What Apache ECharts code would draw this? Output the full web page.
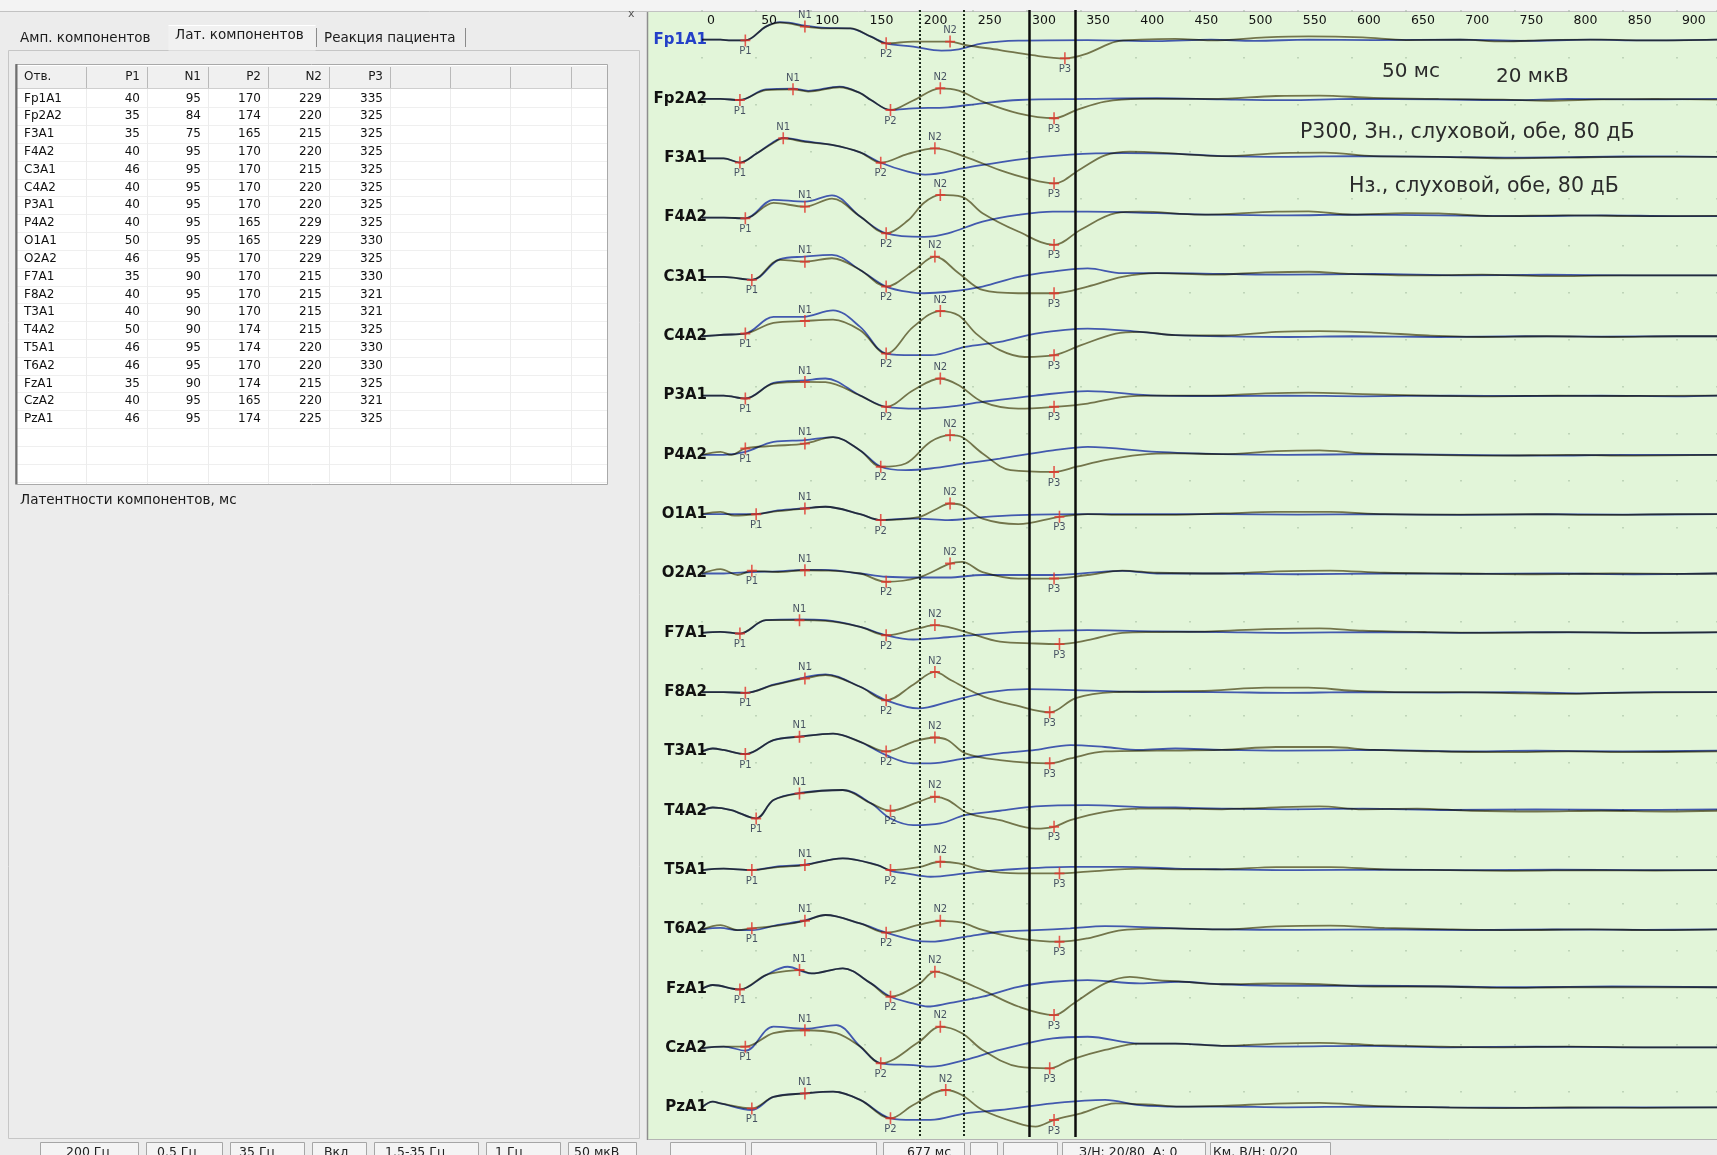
<!DOCTYPE html>
<html>
<head>
<meta charset="utf-8">
<title>Р300 — латентности компонентов</title>
<script src="https://cdn.jsdelivr.net/npm/echarts@6/dist/echarts.min.js"></script>
<style>
  html, body { margin: 0; padding: 0; background: #ececec; }
  #main { width: 1717px; height: 1155px; }
</style>
</head>
<body>
<div id="main"></div>
<script>
// ---- Leads and component latencies (ms) ----
const channels = ['Fp1A1','Fp2A2','F3A1','F4A2','C3A1','C4A2','P3A1','P4A2','O1A1','O2A2',
                  'F7A1','F8A2','T3A1','T4A2','T5A1','T6A2','FzA1','CzA2','PzA1'];
const latP1 = [40,35,35,40,46,40,40,40,50,46,35,40,40,50,46,46,35,40,46];
const latN1 = [95,84,75,95,95,95,95,95,95,95,90,95,90,90,95,95,90,95,95];
const latP2 = [170,174,165,170,170,170,170,165,165,170,170,170,170,174,174,170,174,165,174];
const latN2 = [229,220,215,220,215,220,220,229,229,229,215,215,215,215,220,220,215,220,225];
const latP3 = [335,325,325,325,325,325,325,325,330,325,330,321,321,325,330,330,325,321,325];

// Time axis tick labels (ms) and analysis window bounds (ms)
const timeTicks = [0,50,100,150,200,250,300,350,400,450,500,550,600,650,700,750,800,850,900];
const windowBounds = [201, 242, 302, 345];

// ---- Averaged responses, [ms, µV] (positive = down) ----
// rare_* : significant (Зн.) stimulus, freq_* : non-significant (Нз.) stimulus
const rare_Fp1A1 = [[0,0],[17,0],[27,0.5],[40,0.5],[59,-8.8],[72,-11.5],[80,-11],[95,-8.8],[114,-7.6],[137,-7.6],[156,-2],[170,2.5],[195,1.3],[229,1.3],[243,3.6],[275,7],[305,10.5],[335,12.6],[356,9.2],[382,1.3],[405,0],[437,-0.5],[470,0.5],[520,-1.5],[560,-2.2],[610,-1.5],[650,0.3],[700,0],[740,1.2],[780,0.3],[830,0],[880,0.5],[937,0]];
const freq_Fp1A1 = [[0,0],[17,0],[27,0.5],[40,0.5],[59,-8.8],[72,-11.8],[80,-11.5],[95,-9.5],[114,-8],[137,-7.6],[156,-2],[170,2.5],[195,4.7],[221,7.4],[237,6.5],[259,2.5],[292,0.7],[356,0.3],[420,1],[470,0],[510,0.8],[560,0],[620,0.3],[700,0],[760,0.8],[820,0],[870,0.5],[937,0]];

const rare_Fp2A2 = [[0,0],[17,0],[35,0.7],[59,-6],[84,-6.5],[98,-5],[127,-7.9],[146,-4],[156,0.7],[174,7.4],[195,1],[220,-7.2],[237,-5.6],[259,1.8],[292,9.7],[325,13],[346,7.4],[372,1.8],[405,0],[470,0],[530,-2],[570,-2.3],[620,-0.8],[680,0],[740,0.5],[780,1.2],[830,0.3],[880,0],[937,0.5]];
const freq_Fp2A2 = [[0,0],[17,0],[35,0.7],[59,-6.5],[84,-7],[98,-5.5],[127,-8.3],[146,-4],[156,0.7],[174,7.4],[195,6.3],[227,5.6],[259,2.9],[292,0.7],[356,0],[420,-0.5],[480,0.3],[540,0.8],[600,0],[680,0.3],[750,0.8],[800,0],[860,0.3],[937,0]];

const rare_F3A1 = [[0,0],[20,0],[35,2.9],[50,-3],[65,-10],[75,-13.5],[95,-11],[120,-9],[146,-4],[165,3],[190,-3],[215,-6.7],[243,-1],[275,8],[300,13.5],[325,16.9],[350,7],[372,-2],[395,-4.5],[440,-3],[480,-1.5],[535,-3.5],[575,-3.8],[620,-1.5],[680,-1],[740,0],[800,-0.5],[860,-1],[937,-1]];
const freq_F3A1 = [[0,0],[20,0],[35,2.9],[50,-3],[65,-10.5],[75,-13.8],[95,-11.5],[120,-9],[146,-4],[165,3],[190,9],[206,11],[243,6.5],[290,1],[340,-2.5],[390,-3.5],[440,-3],[480,-1.5],[540,-1],[600,-1.5],[680,-1],[750,-0.5],[820,-1],[880,-1.3],[937,-1]];

const rare_F4A2 = [[0,0],[20,0],[40,0.5],[66,-9.9],[95,-7.4],[120,-12.8],[146,-0.7],[170,10.6],[190,2],[205,-10],[220,-15.3],[240,-14],[259,-3],[292,9.4],[325,18.4],[350,8],[382,-3],[405,-4],[460,-2],[530,-4],[560,-4.2],[600,-2],[650,-3],[680,-2.8],[730,-1],[800,-1.5],[870,-1],[937,-1.2]];
const freq_F4A2 = [[0,0],[20,0],[40,0.5],[66,-12],[95,-10.8],[120,-15],[146,-0.7],[170,10.6],[205,13],[227,10.6],[259,2.7],[292,-1.8],[324,-4],[356,-4],[420,-3],[470,-2],[540,-1.5],[600,-2],[680,-1.5],[760,-1],[830,-1.5],[900,-1],[937,-1]];

const rare_C3A1 = [[0,0],[20,0],[46,2],[72,-11.5],[95,-10.3],[120,-12.6],[146,-4.7],[170,6.5],[195,-4],[215,-13.7],[237,-2.5],[259,8.8],[292,11],[325,11],[356,6.5],[388,0],[420,-2.5],[470,-1.5],[520,-3],[560,-3.5],[600,-2],[660,-1],[720,-1.5],[780,-0.5],[850,-1],[937,-1]];
const freq_C3A1 = [[0,0],[20,0],[46,2],[72,-12],[95,-13.7],[120,-14.8],[146,-4.7],[170,6.5],[195,10.6],[205,11],[227,10],[259,6.5],[292,0],[324,-3.6],[356,-5.8],[388,-2.5],[430,-2.5],[480,-2],[540,-1.5],[620,-2],[700,-1],[780,-1.5],[860,-1],[937,-1]];

const rare_C4A2 = [[0,0],[20,-1],[40,-1.8],[66,-9],[95,-10.3],[121,-11.2],[146,-4],[170,11.7],[195,-6.3],[220,-17],[237,-14],[253,-1.8],[275,9.4],[298,14],[325,12.8],[350,6],[382,-1.8],[404,-3],[437,-0.7],[480,-0.5],[530,-3],[570,-3.5],[620,-2.5],[670,-0.5],[720,0.5],[780,0],[840,0.5],[900,0],[937,0]];
const freq_C4A2 = [[0,0],[20,-1],[40,-1.8],[66,-13],[92,-13],[121,-17.5],[146,-6.3],[170,11.7],[195,12.8],[211,12.8],[243,7.2],[275,3.8],[308,-1.8],[356,-5.2],[404,-3],[437,-0.7],[480,0],[540,0.5],[600,0],[680,0.5],[760,0],[830,0.3],[900,0],[937,0]];

const rare_P3A1 = [[0,0],[20,0],[40,2],[66,-8],[95,-9.2],[114,-9],[146,0],[170,7.6],[195,-3.6],[220,-11.5],[237,-7],[259,4.3],[292,8.8],[325,7.6],[356,5.4],[388,1],[420,0],[470,0],[520,-1.5],[560,-2],[610,-1],[670,0],[730,0.5],[790,0],[850,0.3],[937,0]];
const freq_P3A1 = [[0,0],[20,0],[40,2],[66,-8.5],[95,-10.3],[114,-11.5],[146,0],[170,7.6],[200,8.8],[227,7.6],[259,4.3],[308,0],[356,-3],[420,0],[480,0.3],[540,0],[610,0.5],[690,0],[760,0.3],[830,0],[900,0.5],[937,0]];

const rare_P4A2 = [[0,0],[17,-2],[27,0],[40,-4.3],[66,-6],[95,-7.6],[121,-12],[146,-3],[165,8],[188,5.8],[211,-8.8],[229,-13.3],[240,-12],[259,-1],[285,10.3],[325,11.5],[346,8],[372,3.6],[404,0],[437,-1],[480,-0.5],[530,-2.5],[570,-3],[610,-1],[670,0],[730,0.5],[800,0],[860,0.5],[937,0]];
const freq_P4A2 = [[0,0],[20,0],[40,-2],[66,-8.8],[95,-10],[121,-12],[146,-3],[165,8],[188,10.3],[211,9.2],[243,5.8],[275,2.5],[324,-3],[356,-5.4],[420,-2],[480,-0.5],[540,0],[620,-0.5],[700,0],[780,0.5],[850,0],[937,0]];

const rare_O1A1 = [[0,0],[17,-1.5],[30,1],[50,0],[70,-2],[95,-3.8],[114,-5],[146,0],[165,4],[200,2],[215,-3],[229,-7.2],[240,-6],[259,3],[292,6.7],[330,1.8],[356,0],[390,0.5],[420,0.5],[480,-0.5],[530,-1.5],[580,-1.5],[630,0],[700,0.3],[770,0],[830,0.5],[900,0],[937,0]];
const freq_O1A1 = [[0,0],[20,0],[50,0],[70,-2.5],[95,-4],[114,-5],[146,0],[165,4],[188,3],[200,3],[227,4],[259,2],[292,0.7],[356,0],[420,0],[480,0],[550,0.3],[620,0],[700,0.5],[780,0],[850,0.3],[937,0]];

const rare_O2A2 = [[0,0],[17,-3],[33,1],[46,-1.8],[70,-1],[95,-2.2],[114,-2],[146,0],[170,5.6],[200,2.7],[229,-6.7],[240,-7.9],[259,-1],[292,3.4],[325,3.4],[356,1],[388,-2],[420,-0.5],[480,0],[530,-1.5],[580,-2],[630,-0.5],[700,0],[770,0.5],[840,0],[900,0.3],[937,0]];
const freq_O2A2 = [[0,0],[20,0],[46,-1],[70,-1.5],[95,-2.5],[114,-2.5],[146,0],[170,2.2],[200,2.7],[227,2.7],[259,1],[324,1],[388,-1.8],[420,0],[480,0],[550,0.5],[630,0],[710,0.3],[790,0],[860,0.5],[937,0]];

const rare_F7A1 = [[0,0],[17,-0.7],[35,0.5],[59,-8.5],[90,-8.5],[114,-8],[146,-4],[170,1.6],[200,-3],[215,-5.2],[227,-4],[246,0],[275,6],[308,7.2],[330,7.6],[356,5],[388,0],[420,-0.5],[470,-1],[520,-2.5],[570,-3],[610,-1.5],[670,-0.5],[730,0],[800,-0.5],[870,0],[937,-0.5]];
const freq_F7A1 = [[0,0],[17,-0.7],[35,0.5],[59,-8.5],[90,-9],[114,-8.5],[146,-4],[170,1.6],[195,4.5],[227,3],[259,1],[292,-0.7],[356,-1.8],[420,-1],[480,-0.5],[540,0],[620,-0.5],[700,0],[780,-0.5],[860,0],[937,-0.3]];

const rare_F8A2 = [[0,0],[20,0],[40,0.5],[66,-4.7],[95,-9.2],[114,-11.5],[146,-3.6],[170,5.5],[195,-5],[215,-13.6],[230,-8],[260,3],[290,9],[321,13.6],[345,4],[380,0],[420,-0.5],[470,-1],[520,-3],[560,-3],[600,-1],[650,0],[700,0],[760,0.8],[800,1.2],[860,0.3],[937,0]];
const freq_F8A2 = [[0,0],[20,0],[40,0.5],[66,-5],[95,-10],[114,-12],[146,-3.6],[170,5.5],[200,11],[230,6],[265,0],[300,-2],[380,-0.5],[420,0],[470,0],[540,0.5],[600,0],[680,0.3],[750,0],[810,0.8],[880,0],[937,0]];

const rare_T3A1 = [[0,0],[10,-2],[20,-1],[40,1.8],[66,-7.6],[90,-9.9],[121,-12],[146,-6.5],[170,0],[195,-6.5],[215,-9.4],[227,-7.6],[243,1.3],[275,5.8],[321,8],[340,4.7],[372,0],[420,-0.5],[480,-1],[530,-3],[580,-3],[620,-1],[680,0],[740,0.5],[800,0],[860,0.5],[937,0]];
const freq_T3A1 = [[0,0],[10,-2],[20,-1],[40,1.8],[66,-7.6],[90,-10],[121,-12],[146,-6.5],[170,2.5],[195,8],[211,8],[243,4.7],[275,1.3],[308,-1],[340,-4.3],[372,-3],[404,-1],[437,-2],[480,-1],[540,-0.5],[620,-1],[700,0],[770,-0.5],[850,0],[937,-0.5]];

const rare_T4A2 = [[0,0],[10,-2.2],[27,-0.5],[50,5.2],[66,-7.2],[90,-11.7],[130,-14],[156,-5],[174,0],[200,-6],[215,-9.4],[227,-7.2],[246,1.8],[275,6.3],[308,12],[325,10.8],[340,6.3],[372,0.7],[404,-1.5],[437,-1.5],[480,-1],[520,-2],[570,-3],[610,-1],[660,-1.5],[710,0],[770,0.5],[830,0],[890,0.5],[937,0]];
const freq_T4A2 = [[0,0],[10,-2.2],[27,-0.5],[50,5.2],[66,-7.2],[90,-12],[130,-14],[156,-5],[174,5.2],[195,9.7],[220,8.5],[243,3],[275,0],[308,-3],[356,-3.8],[404,-2.5],[437,-2.2],[480,-1.5],[540,-1],[610,-1.5],[690,-0.5],[770,-1],[850,-0.5],[937,-1]];

const rare_T5A1 = [[0,0],[20,-1],[46,0],[70,-2],[95,-3.4],[130,-7.9],[162,-3.4],[174,0],[200,-2],[220,-5.6],[237,-4.5],[259,0],[292,2.2],[330,2.2],[356,1],[404,-1],[437,-0.5],[480,-0.5],[530,-2],[580,-2],[630,-0.5],[690,0],[750,0.5],[820,0],[880,0.3],[937,0]];
const freq_T5A1 = [[0,0],[20,-1],[46,0],[70,-2.5],[95,-3.6],[130,-7.9],[162,-3.4],[174,0.5],[188,2.2],[211,4.5],[243,2.2],[275,0],[340,-2.2],[388,-2.2],[437,-1],[480,-0.5],[550,0],[630,-0.3],[710,0],[790,-0.3],[870,0],[937,0]];

const rare_T6A2 = [[0,0],[17,-2.9],[33,0.5],[46,-0.7],[70,-2.5],[95,-5.8],[114,-9.7],[146,-4],[170,2.2],[200,-3],[220,-5.8],[240,-4.5],[259,0.4],[292,6],[330,8.3],[356,6],[388,0.5],[437,-0.7],[480,0],[530,-2],[580,-2.5],[630,-1],[690,0],[750,0.5],[820,0],[880,0.5],[937,0]];
const freq_T6A2 = [[0,0],[17,-1],[33,0.5],[46,0.5],[70,-3],[95,-6],[114,-9.7],[146,-4],[170,2.2],[195,7.2],[211,8.3],[243,5],[275,1.6],[308,0.5],[340,-0.7],[372,-2.2],[437,-0.7],[480,0],[550,0.3],[630,0],[710,0.5],[790,0],[870,0.3],[937,0]];

const rare_FzA1 = [[0,0],[10,-2.5],[35,0.5],[59,-9.2],[80,-12],[90,-12.6],[101,-10.3],[130,-13.7],[156,-3.6],[174,5.4],[200,-3],[215,-11.5],[234,-7],[259,1],[292,12],[325,17.8],[343,9.9],[372,-3.6],[395,-8],[420,-5.8],[440,-5],[480,-3],[530,-3.5],[570,-3],[620,-1.5],[680,-1.5],[740,-0.5],[800,-1],[870,-1],[937,-1]];
const freq_FzA1 = [[0,0],[10,-2.5],[35,0.5],[59,-9.2],[79,-14.8],[101,-10.3],[130,-13.7],[156,-3.6],[174,5.4],[195,9.9],[208,12],[227,9.9],[259,5.4],[292,-1.3],[324,-4.7],[356,-5.8],[404,-3.6],[440,-4.7],[480,-3],[540,-2],[610,-2],[690,-1.5],[760,-1],[840,-1.5],[937,-1]];

const rare_CzA2 = [[0,0],[20,-1],[40,-0.9],[66,-10],[95,-12],[124,-10],[146,-1],[165,10.3],[200,-4],[220,-14.4],[240,-10],[259,1.3],[292,12.6],[321,13.7],[340,8],[372,1.3],[404,-3],[437,-3],[480,-1.5],[530,-3],[570,-3.5],[620,-2],[680,-1],[740,-0.5],[800,-1],[870,-0.5],[937,-0.5]];
const freq_CzA2 = [[0,0],[20,-1],[40,1.8],[66,-14.4],[95,-13],[124,-15.5],[146,-1],[165,10.3],[195,11.5],[211,12.6],[243,8],[275,1.3],[324,-6.5],[356,-7.6],[404,-3],[437,-3],[480,-1.5],[540,-1],[610,-1.5],[690,-0.5],[770,-1],[850,-0.5],[937,-0.5]];

const rare_PzA1 = [[0,0],[10,-3.8],[17,-2.7],[46,0.7],[66,-7],[95,-9.4],[121,-10.6],[146,-5],[174,7.4],[195,-1.6],[225,-11.7],[240,-8.3],[259,1.8],[292,10.8],[308,13],[325,8.5],[350,4],[382,-2.7],[420,-1.5],[440,-0.5],[480,-1],[530,-2.5],[570,-3],[620,-1],[680,0],[740,0.5],[800,0],[870,0.3],[937,0]];
const freq_PzA1 = [[0,0],[10,-3.8],[17,-2.7],[46,1.8],[66,-7],[95,-9.4],[121,-10.6],[146,-5],[174,7.4],[195,8.5],[211,8.5],[243,4],[275,1.8],[324,-2.7],[372,-5],[404,-1.5],[440,-0.5],[480,-0.5],[540,0],[610,-0.5],[690,0],[770,0.3],[850,0],[937,0]];

const rareWaves = [rare_Fp1A1, rare_Fp2A2, rare_F3A1, rare_F4A2, rare_C3A1, rare_C4A2, rare_P3A1, rare_P4A2,
                   rare_O1A1, rare_O2A2, rare_F7A1, rare_F8A2, rare_T3A1, rare_T4A2, rare_T5A1, rare_T6A2,
                   rare_FzA1, rare_CzA2, rare_PzA1];
const freqWaves = [freq_Fp1A1, freq_Fp2A2, freq_F3A1, freq_F4A2, freq_C3A1, freq_C4A2, freq_P3A1, freq_P4A2,
                   freq_O1A1, freq_O2A2, freq_F7A1, freq_F8A2, freq_T3A1, freq_T4A2, freq_T5A1, freq_T6A2,
                   freq_FzA1, freq_CzA2, freq_PzA1];

// ---- Layout constants ----
const CH_STEP = 40;            // µV between neighbouring lead baselines
const T_MAX = 937;             // right edge of the sweep, ms
const FONT = '"DejaVu Sans", "Liberation Sans", sans-serif';
const COL_RARE = '#827a58';
const COL_FREQ = '#4a5ccd';
const GREEN = '#e2f5d9';

// value of a response at a given latency (exact sample or linear between samples)
function valueAt(wave, t) {
  for (let k = 0; k < wave.length; k++) {
    if (wave[k][0] === t) return wave[k][1];
    if (k > 0 && wave[k - 1][0] < t && wave[k][0] > t) {
      const a = wave[k - 1], b = wave[k];
      return a[1] + (b[1] - a[1]) * (t - a[0]) / (b[0] - a[0]);
    }
  }
  return 0;
}

// ---- Series ----
const series = [];
const lineBase = {
  type: 'line', showSymbol: false, symbol: 'none', smooth: 0.35, silent: true,
  animation: false, blendMode: 'multiply'
};
channels.forEach((name, i) => {
  series.push(Object.assign({}, lineBase, {
    name: name + ' Нз.', z: 2,
    data: freqWaves[i].map(p => [p[0], p[1] + i * CH_STEP]),
    lineStyle: { color: COL_FREQ, width: 1.8 }
  }));
});
channels.forEach((name, i) => {
  series.push(Object.assign({}, lineBase, {
    name: name + ' Зн.', z: 3,
    data: rareWaves[i].map(p => [p[0], p[1] + i * CH_STEP]),
    lineStyle: { color: COL_RARE, width: 1.8 }
  }));
});

// Component markers on the significant-stimulus response
const compNames = ['P1', 'N1', 'P2', 'N2', 'P3'];
const compLat = [latP1, latN1, latP2, latN2, latP3];
const markerData = [];
channels.forEach((name, i) => {
  compNames.forEach((c, k) => {
    const t = compLat[k][i];
    markerData.push({
      value: [t, valueAt(rareWaves[i], t) + i * CH_STEP],
      name: c,
      label: { position: c[0] === 'P' ? 'bottom' : 'top' }
    });
  });
});
series.push({
  type: 'scatter', z: 5, silent: true, animation: false,
  symbol: 'path://M4.2 0H5.8V4.2H10V5.8H5.8V10H4.2V5.8H0V4.2H4.2Z',
  symbolSize: [10, 12],
  itemStyle: { color: '#e3342c' },
  label: {
    show: true, formatter: '{b}', distance: 0,
    fontFamily: FONT, fontSize: 10, color: '#1e2742'
  },
  data: markerData,
  markLine: {
    silent: true, animation: false, symbol: ['none', 'none'],
    label: { show: false },
    data: windowBounds.map((x, k) => ({
      xAxis: x,
      lineStyle: k < 2 ? { type: 'dotted', width: 2, color: '#1c2a1c' }
                       : { type: 'solid', width: 2.5, color: '#0c0c0c' }
    }))
  }
});

// ---- Left panel: tabs, latency table, caption, status bar ----
const G = [];
function rect(x, y, w, h, fill, stroke, lw) {
  G.push({ type: 'rect', silent: true, shape: { x, y, width: w, height: h },
           style: { fill: fill || 'none', stroke: stroke || null, lineWidth: lw || 1 } });
}
function hline(x1, y1, x2, y2, stroke, lw) {
  G.push({ type: 'line', silent: true, shape: { x1, y1, x2, y2 },
           style: { stroke, lineWidth: lw || 1 } });
}
function label(x, y, t, size, fill, align, weight) {
  G.push({ type: 'text', silent: true, x, y,
           style: { text: t, fontFamily: FONT, fontSize: size, fontWeight: weight || 'normal',
                    fill: fill || '#1a1a1a', align: align || 'left', verticalAlign: 'middle' } });
}

// window chrome
rect(0, 0, 1717, 11, '#f3f3f3');
hline(0, 11.5, 1717, 11.5, '#c2c2c2', 1);
label(628, 14, 'x', 11, '#555');
// tab page frame
rect(8.5, 50.5, 631, 1088, '#ececec', '#c6c6c6', 1);
// tabs
const tabNames = ['Амп. компонентов', 'Лат. компонентов', 'Реакция пациента'];
const tabX = [20, 175, 324];
rect(168.5, 25.5, 147, 25, '#f1f1f1', null);
hline(168.5, 25.5, 315.5, 25.5, '#ffffff', 1);
tabNames.forEach((t, k) => label(tabX[k], k === 1 ? 35 : 38, t, 13.5, '#1c1c1c'));
hline(316.5, 28, 316.5, 47, '#8a8a8a', 1);
hline(465.5, 28, 465.5, 47, '#8a8a8a', 1);

// latency table
const colEdges = [15, 86, 147, 208, 268, 329, 390, 450, 510, 571, 608];
const tTop = 64, tBottom = 484, headBottom = 88, rowH = 17.82;
rect(15.5, tTop + 0.5, 592, tBottom - tTop, '#ffffff', '#a9a9a9', 1);
rect(17, tTop + 2, 590, headBottom - tTop - 2, '#f0f0f0');
for (let y = headBottom + 1.5 + rowH; y < tBottom; y += rowH) hline(17, Math.round(y) + 0.5, 607, Math.round(y) + 0.5, '#efefef', 1);
colEdges.slice(1, -1).forEach(x => {
  hline(x + 0.5, tTop + 3, x + 0.5, headBottom, '#b9b9b9', 1);
  hline(x + 0.5, headBottom, x + 0.5, tBottom, '#ececec', 1);
});
hline(17, headBottom + 0.5, 607, headBottom + 0.5, '#cfcfcf', 1);
hline(16.5, tTop, 16.5, tBottom, '#6f6f6f', 2);
const headers = ['Отв.', 'P1', 'N1', 'P2', 'N2', 'P3'];
const headY = 77;
label(24, headY, headers[0], 12, '#1a1a1a');
headers.slice(1).forEach((h, k) => label(colEdges[k + 2] - 7, headY, h, 12, '#1a1a1a', 'right'));
channels.forEach((name, i) => {
  const y = headBottom + 1.5 + rowH * (i + 0.5);
  label(24, y, name, 12, '#111');
  compLat.forEach((arr, k) => label(colEdges[k + 2] - 7, y, String(arr[i]), 12, '#111', 'right'));
});
label(20, 500, 'Латентности компонентов, мс', 13.5, '#1a1a1a');

// curve panel background and frame
rect(648, 12, 1069, 1127, GREEN);
hline(647.5, 12, 647.5, 1140, '#8e8e8e', 1.5);
hline(648, 1139.5, 1717, 1139.5, '#b4b4b4', 1);

// annotations inside the curve panel
label(1382, 72, '50 мс', 20, '#2b2b2b');
label(1496, 77, '20 мкВ', 20, '#2b2b2b');
label(1300, 133, 'Р300, Зн., слуховой, обе, 80 дБ', 20.5, '#2b2b2b');
label(1349, 187, 'Нз., слуховой, обе, 80 дБ', 20.5, '#2b2b2b');

// status bar
const statusFields = [[40, 138], [146, 222], [230, 304], [312, 366], [374, 478], [486, 560], [568, 636],
                      [670, 745], [751, 876], [883, 964], [970, 997], [1003, 1057], [1062, 1205], [1210, 1330]];
statusFields.forEach(f => rect(f[0] + 0.5, 1142.5, f[1] - f[0], 16, '#f4f4f4', '#a6a6a6', 1));
const statusText = [['200 Гц', 66], ['0.5 Гц', 157], ['35 Гц', 239], ['Вкл', 324], ['1.5-35 Гц', 385],
                    ['1 Гц', 495], ['50 мкВ', 574], ['677 мс', 907], ['З/Н: 20/80  А: 0', 1079], ['Км. В/Н: 0/20', 1213]];
statusText.forEach(s => label(s[1], 1153, s[0], 12.5, '#222'));

// ---- Chart ----
const chart = echarts.init(document.getElementById('main'), null, { renderer: 'canvas' });
chart.setOption({
  backgroundColor: '#ececec',
  animation: false,
  graphic: { elements: G },
  grid: { left: 702, right: 0, top: 10, height: 1127, containLabel: false },
  xAxis: {
    type: 'value', position: 'top', min: 0, max: T_MAX, interval: 50,
    axisLine: { show: false }, axisTick: { show: false },
    splitLine: { show: true, lineStyle: { color: 'rgba(120,150,120,0.45)', width: 1.5, type: [1.5, 45.5] } },
    axisLabel: {
      inside: true, margin: 4.5, align: 'left', padding: [0, 0, 0, 5],
      customValues: timeTicks,
      fontFamily: FONT, fontSize: 12.5, color: '#111'
    }
  },
  yAxis: {
    type: 'value', inverse: true, min: -CH_STEP / 2, max: (channels.length - 0.5) * CH_STEP,
    axisLine: { show: false }, axisTick: { show: false }, splitLine: { show: false },
    axisLabel: {
      margin: -5,
      customValues: channels.map((c, i) => i * CH_STEP),
      formatter: v => channels[Math.round(Number(v) / CH_STEP)] || '',
      fontFamily: FONT, fontSize: 15, fontWeight: 'bold',
      color: v => (Number(v) === 0 ? '#2440c8' : '#111')
    }
  },
  series
});
</script>
</body>
</html>
